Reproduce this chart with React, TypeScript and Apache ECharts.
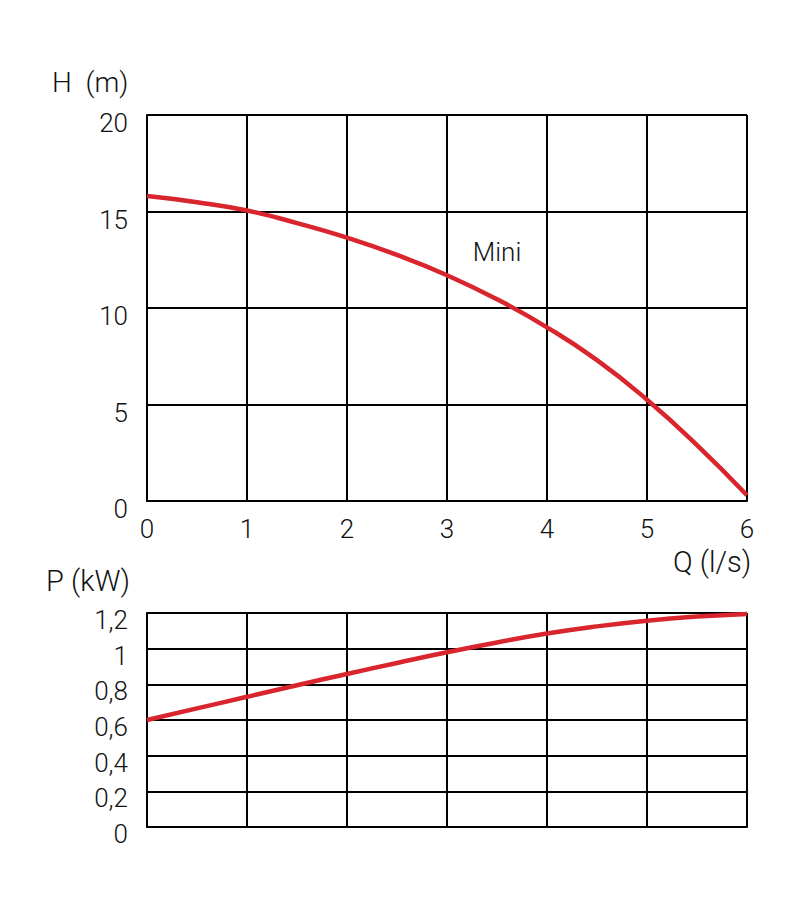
import React, { useEffect, useRef } from "react";
import * as echarts from "echarts";

const flowQ = [0, 0.5, 1, 1.5, 2, 2.5, 3, 3.5, 4, 4.5, 5, 5.5, 6];
const headH = [15.8, 15.48, 15.05, 14.4, 13.65, 12.75, 11.7, 10.45, 9.0, 7.3, 5.25, 2.9, 0.3];
const powerP = [0.6, 0.665, 0.73, 0.795, 0.858, 0.92, 0.98, 1.035, 1.085, 1.125, 1.157, 1.18, 1.195];
const xTicks = [0, 1, 2, 3, 4, 5, 6];
const curveName = "Mini";

const FONT = "Roboto, 'DejaVu Sans', sans-serif";
const RED = "#d8252e";

export default function App() {
  const ref = useRef<HTMLDivElement>(null);
  useEffect(() => {
    if (!ref.current) return;
    const chart = echarts.init(ref.current, undefined, { renderer: "svg" });
    const axisLine = { show: true, lineStyle: { color: "#000", width: 2 } };
    const splitLine = { show: true, lineStyle: { color: "#000", width: 2 } };
    const labelStyle = { color: "#111", fontFamily: FONT, fontSize: 26, fontWeight: 300 };
    chart.setOption({
      animation: false,
      backgroundColor: "#fff",
      grid: [
        { left: 147, top: 115, width: 600, height: 386 },
        { left: 147, top: 613, width: 600, height: 214 },
      ],
      xAxis: [
        {
          type: "value", gridIndex: 0, min: xTicks[0], max: xTicks[xTicks.length - 1], interval: 1,
          axisLine, splitLine, axisTick: { show: false },
          axisLabel: { ...labelStyle, margin: 15 },
        },
        {
          type: "value", gridIndex: 1, min: xTicks[0], max: xTicks[xTicks.length - 1], interval: 1,
          axisLine, splitLine, axisTick: { show: false },
          axisLabel: { show: false },
        },
      ],
      yAxis: [
        {
          type: "value", gridIndex: 0, min: 0, max: 20, interval: 5,
          axisLine, splitLine, axisTick: { show: false },
          axisLabel: { ...labelStyle, margin: 19, verticalAlign: "top", lineHeight: 16 },
        },
        {
          type: "value", gridIndex: 1, min: 0, max: 1.2, interval: 0.2,
          axisLine, splitLine, axisTick: { show: false },
          axisLabel: {
            ...labelStyle, margin: 19, verticalAlign: "top", lineHeight: 14,
            formatter: (v: number) => String(Math.round(v * 10) / 10).replace(".", ","),
          },
        },
      ],
      series: [
        {
          type: "line", xAxisIndex: 0, yAxisIndex: 0, smooth: true, showSymbol: false,
          data: flowQ.map((q, i) => [q, headH[i]]),
          lineStyle: { color: RED, width: 4.5 },
          markPoint: {
            symbol: "circle", symbolSize: 0,
            data: [{ coord: [3.5, 12.9], value: curveName }],
            label: { show: true, position: "inside", formatter: curveName, ...labelStyle, fontSize: 26 },
          },
        },
        {
          type: "line", xAxisIndex: 1, yAxisIndex: 1, smooth: true, showSymbol: false,
          data: flowQ.map((q, i) => [q, powerP[i]]),
          lineStyle: { color: RED, width: 4.5 },
        },
      ],
      graphic: [
        { type: "text", left: 52, top: 68, style: { text: "H  (m)", fill: "#111", fontFamily: FONT, fontWeight: 300, fontSize: 28 } },
        { type: "text", left: 673, top: 547, style: { text: "Q (l/s)", fill: "#111", fontFamily: FONT, fontWeight: 300, fontSize: 29 } },
        { type: "text", left: 46, top: 566, style: { text: "P (kW)", fill: "#111", fontFamily: FONT, fontWeight: 300, fontSize: 29 } },
      ],
    });
    return () => chart.dispose();
  }, []);
  return <div ref={ref} style={{ position: "fixed", left: 0, top: 0, width: 800, height: 913 }} />;
}
